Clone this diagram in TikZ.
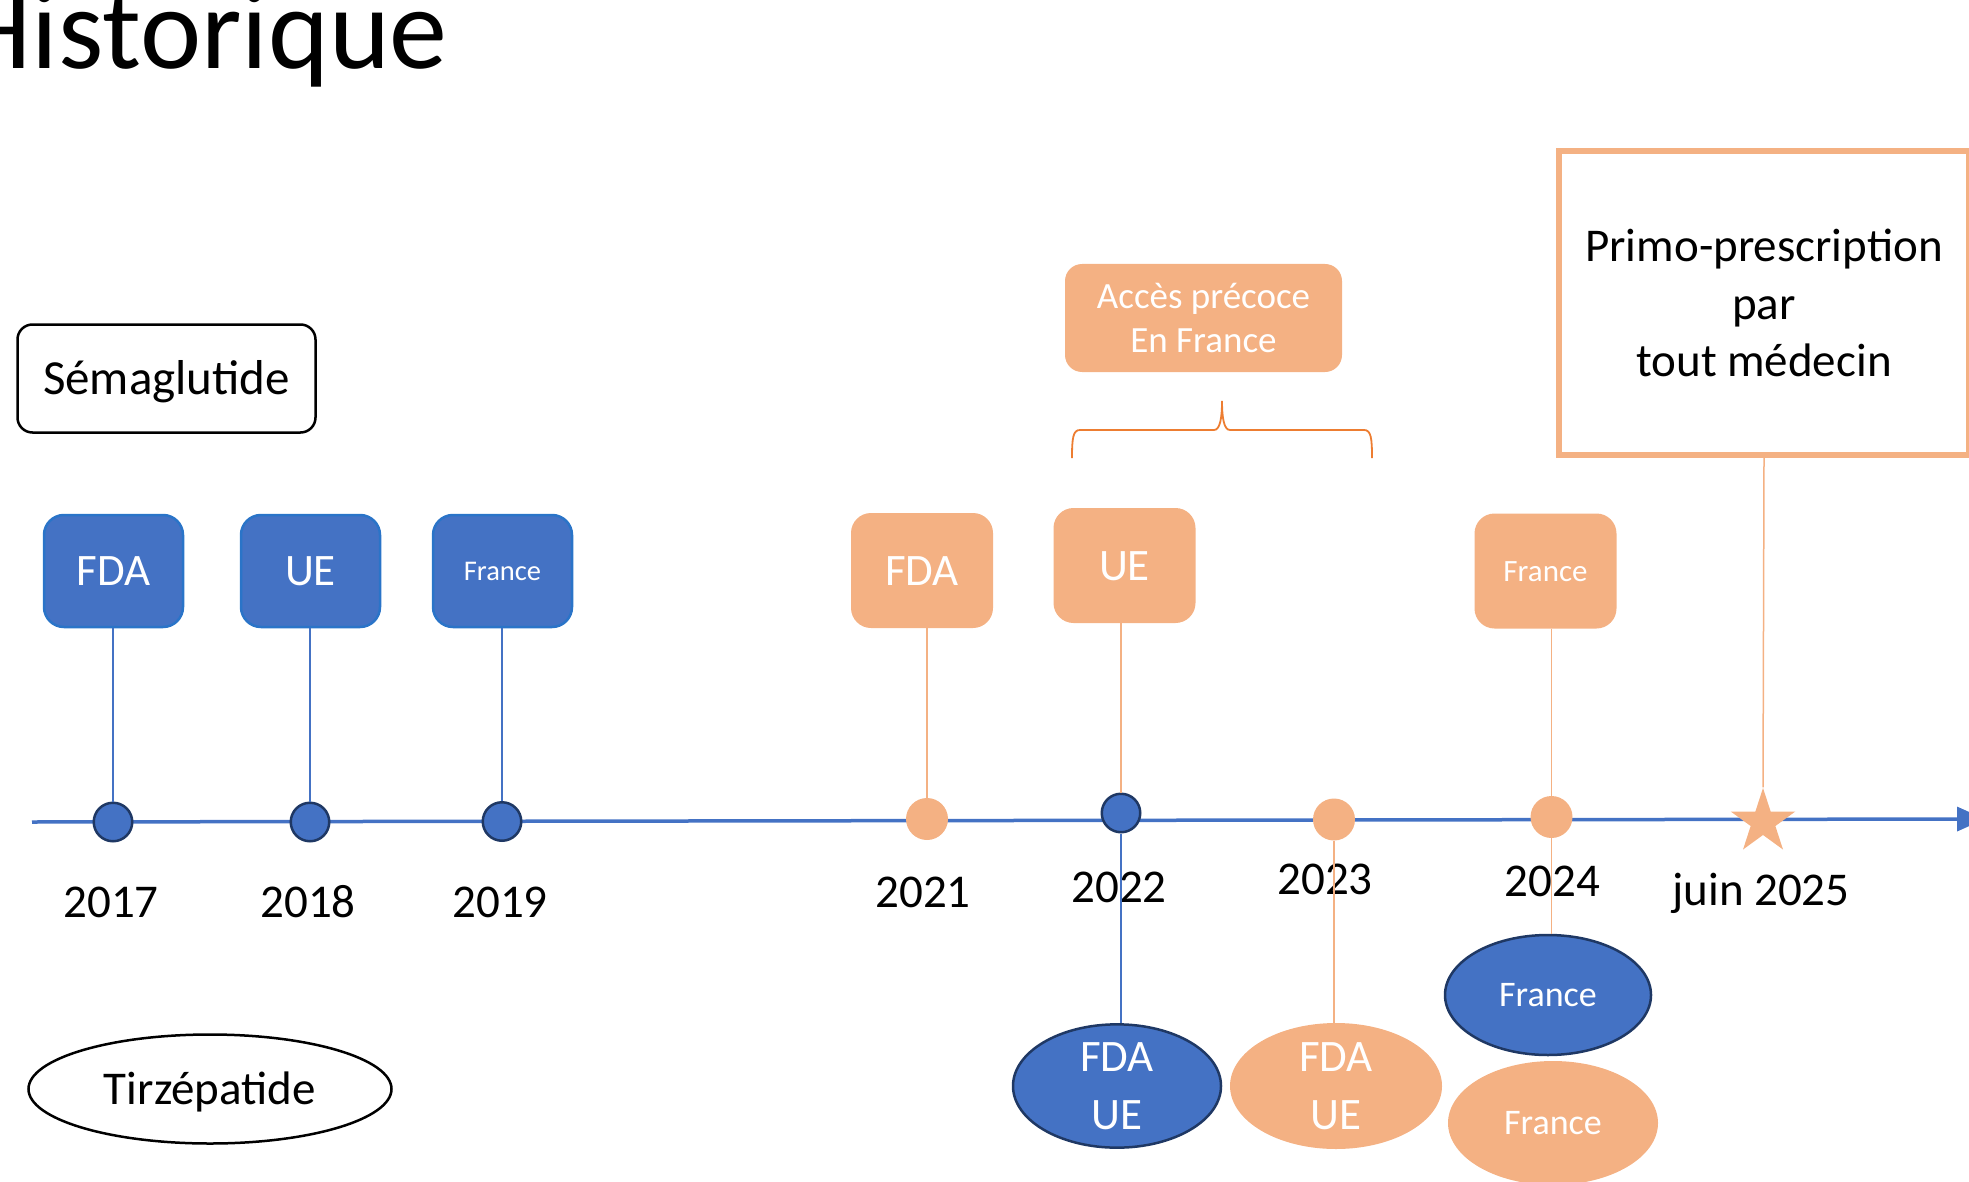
\documentclass[tikz,border=0pt]{standalone}
\usepackage{fontspec}
\setmainfont{Carlito}
\usetikzlibrary{shapes.geometric,arrows.meta}
\definecolor{bfill}{HTML}{4472C4}
\definecolor{bedge}{HTML}{2A74C8}
\definecolor{navy}{HTML}{1F3864}
\definecolor{ofill}{HTML}{F4B183}
\definecolor{braceC}{HTML}{ED7D31}
\newcommand\setfs[2]{\fontsize{#1}{#2}\selectfont}
\begin{document}
\begin{tikzpicture}[x=1pt,y=-1pt,
 bbox/.style={rectangle, rounded corners=20, fill=bfill, draw=bedge, line width=2.5, minimum width=139, minimum height=112, inner sep=0, text=white},
 obox/.style={rectangle, rounded corners=20, fill=ofill, minimum width=142, minimum height=115, inner sep=0, text=white},
 bdot/.style={circle, fill=bfill, draw=navy, line width=2.5, minimum size=38.5, inner sep=0},
 odot/.style={circle, fill=ofill, minimum size=42, inner sep=0},
 big/.style={font=\setfs{45}{54}, text height=29pt, text depth=0pt},
 year/.style={font=\setfs{47}{56}, anchor=base, inner sep=0},
 bline/.style={draw=bfill, line width=1.3},
 oline/.style={draw=ofill, line width=1.5},
 bell/.style={ellipse, fill=bfill, draw=navy, line width=2.5, inner sep=0, text=white},
 oell/.style={ellipse, fill=ofill, inner sep=0, text=white},
]
\useasboundingbox (0,0) rectangle (1969,1182);

% title
\node[anchor=base east, inner sep=0, font=\setfs{116}{130}] (title) at (448,69) {Historique};

% legend shapes
\node[rectangle, rounded corners=15, draw=black, line width=2.5, minimum width=298, minimum height=108, inner sep=0, font=\setfs{49}{58}, text height=31.5pt, text depth=0pt] (sema) at (166.5,378.5) {Sémaglutide};
\node[ellipse, draw=black, line width=2.5, minimum width=363, minimum height=109, inner sep=0, font=\setfs{47}{56}, text height=30pt, text depth=0pt] (tirz) at (210,1089) {Tirzépatide};

% timeline
\coordinate (t0) at (32,822);
\coordinate (t1) at (1985,819);
\draw[draw=bfill, line width=3.5, -{Triangle[length=28pt,width=24pt]}] (t0) -- (t1);

% top boxes
\node[bbox, big] (bfda) at (113.5,571) {FDA};
\node[bbox, big] (bue) at (310.5,571) {UE};
\node[bbox, font=\setfs{28.5}{34}, text height=18pt, text depth=0pt] (bfra) at (502.5,571) {France};
\node[obox, big] (ofda) at (922,570.5) {FDA};
\node[obox, big] (oue) at (1124.5,565.5) {UE};
\node[obox, font=\setfs{31}{37}, text height=20pt, text depth=0pt] (ofra) at (1545.5,571) {France};
\node[obox, rounded corners=17, minimum width=277, minimum height=108, align=center, font=\setfs{37}{44}] (acces) at (1203.5,318) {Accès précoce\\En France};
\node[rectangle, draw=ofill, line width=6, fill=white, minimum width=410, minimum height=304, align=center, font=\setfs{47}{57.5}] (primo) at (1764,303) {Primo-prescription\\par\\tout médecin};

% brace
\draw[draw=braceC, line width=1.8] (1072,458) .. controls (1072,438) and (1073,430) .. (1080,430) -- (1214,430) .. controls (1220,430) and (1222,418) .. (1222,401) .. controls (1222,418) and (1224,430) .. (1230,430) -- (1364,430) .. controls (1371,430) and (1372,438) .. (1372,458);

% timeline dots
\node[bdot] (c17) at (113,822) {};
\node[bdot] (c18) at (310,822) {};
\node[bdot] (c19) at (502,821.5) {};
\node[odot] (c21) at (927,819) {};
\node[bdot] (c22) at (1121,813) {};
\node[odot] (c23) at (1334,819.5) {};
\node[odot] (c24) at (1551.5,817) {};
\node[star, star points=5, star point ratio=2.618, fill=ofill, minimum size=68, inner sep=0] (star) at (1763,822) {};

% years
\node[year] (y17) at (111,917) {2017};
\node[year] (y18) at (308,917) {2018};
\node[year] (y19) at (500,917) {2019};
\node[year] (y21) at (923,907) {2021};
\node[year] (y22) at (1119,902) {2022};
\node[year] (y23) at (1325,894) {2023};
\node[year] (y24) at (1552.5,896) {2024};
\node[year] (y25) at (1761,905) {juin 2025};

% bottom ellipses
\node[bell, minimum width=208, minimum height=120, align=center, font=\setfs{45}{58}] (bfu) at (1117,1086) {FDA\\UE};
\node[oell, minimum width=212, minimum height=126, align=center, font=\setfs{45}{58}] (ofu) at (1336,1086) {FDA\\UE};
\node[bell, minimum width=206, minimum height=120, font=\setfs{36}{43}, text height=23pt, text depth=0pt] (bfr) at (1548,995) {France};
\node[oell, minimum width=210, minimum height=124, font=\setfs{36}{43}, text height=23pt, text depth=0pt] (ofr) at (1553,1123) {France};

% connectors
\draw[bline] (c17.north) -- (c17.north |- bfda.south);
\draw[bline] (c18.north) -- (c18.north |- bue.south);
\draw[bline] (c19.north) -- (c19.north |- bfra.south);
\draw[oline] (c21.north) -- (c21.north |- ofda.south);
\draw[oline] (c22.north) -- (c22.north |- oue.south);
\draw[draw=bfill, line width=1.3] (c22.south) -- (c22.south |- bfu.north);
\draw[oline] (c23.south) -- (c23.south |- ofu.north);
\draw[oline] (c24.north) -- (c24.north |- ofra.south);
\draw[oline] (c24.south) -- (c24.south |- bfr.north);
\draw[oline] (primo.south) -- (star.north);
\end{tikzpicture}
\end{document}
